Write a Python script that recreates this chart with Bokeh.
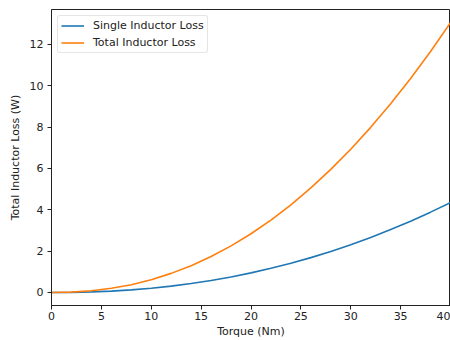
from bokeh.plotting import figure
from bokeh.models import Range1d, FixedTicker, Legend, LegendItem
from bokeh.embed import file_html
from bokeh.resources import INLINE

torque = [0, 2, 4, 6, 8, 10, 12, 14, 16, 18, 20, 22, 24, 26, 28, 30, 32, 34, 36, 38, 40]
single_loss = [0, 0.006, 0.027, 0.067, 0.126, 0.206, 0.308, 0.432, 0.580, 0.751, 0.947,
               1.168, 1.414, 1.686, 1.985, 2.310, 2.663, 3.042, 3.450, 3.886, 4.350]
total_loss = [0, 0.018, 0.081, 0.201, 0.378, 0.618, 0.924, 1.296, 1.740, 2.253, 2.841,
              3.504, 4.242, 5.058, 5.955, 6.930, 7.989, 9.126, 10.350, 11.658, 13.050]
x_ticks = [0, 5, 10, 15, 20, 25, 30, 35, 40]
y_ticks = [0, 2, 4, 6, 8, 10, 12]

FONT = "DejaVu Sans"

p = figure(width=450, height=340, x_range=Range1d(0, 40), y_range=Range1d(-0.63, 13.69),
           output_backend="svg", toolbar_location=None,
           min_border_left=51, min_border_right=0, min_border_top=9, min_border_bottom=32)

r1 = p.line(torque, single_loss, line_color="#1f77b4", line_width=1.6)
r2 = p.line(torque, total_loss, line_color="#ff7f0e", line_width=1.6)

p.xgrid.visible = False
p.ygrid.visible = False
p.outline_line_color = "#222222"
p.outline_line_width = 1

for ax in (p.xaxis[0], p.yaxis[0]):
    ax.axis_line_color = "#222222"
    ax.major_tick_line_color = "#222222"
    ax.major_tick_out = 4
    ax.major_tick_in = 0
    ax.minor_tick_line_color = None
    ax.major_label_text_font = FONT
    ax.major_label_text_font_size = "11px"
    ax.major_label_text_color = "#222222"
    ax.axis_label_text_font = FONT
    ax.axis_label_text_font_size = "11px"
    ax.axis_label_text_font_style = "normal"
    ax.axis_label_text_color = "#222222"

p.xaxis.ticker = FixedTicker(ticks=x_ticks)
p.yaxis.ticker = FixedTicker(ticks=y_ticks)
p.xaxis.axis_label = "Torque (Nm)"
p.yaxis.axis_label = "Total Inductor Loss (W)"
p.xaxis.major_label_standoff = 2
p.xaxis.axis_label_standoff = 2
p.yaxis.major_label_standoff = 4
p.yaxis.axis_label_standoff = 5

legend = Legend(items=[LegendItem(label="Single Inductor Loss", renderers=[r1]),
                       LegendItem(label="Total Inductor Loss", renderers=[r2])],
                location="top_left")
legend.margin = 6
legend.padding = 3
legend.spacing = 4
legend.glyph_width = 23
legend.glyph_height = 13
legend.label_standoff = 9
legend.label_text_font = FONT
legend.label_text_font_size = "11px"
legend.label_text_color = "#222222"
legend.label_height = 13
legend.border_line_color = "#cccccc"
legend.border_line_width = 1
legend.border_radius = 3
legend.background_fill_alpha = 0.8
p.add_layout(legend)

open("out.html", "w").write(file_html(p, INLINE))
